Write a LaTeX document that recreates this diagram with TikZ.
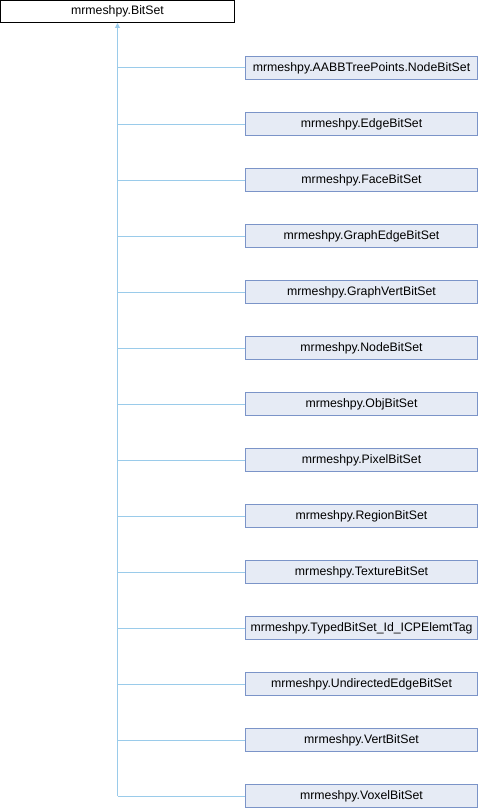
\documentclass[tikz,border=0pt]{standalone}
\usepackage{fontspec}
\setmainfont{Liberation Sans}
\usetikzlibrary{arrows.meta}
\definecolor{edgeblue}{HTML}{9ACBEA}
\definecolor{boxfill}{HTML}{E6EBF5}
\definecolor{boxdraw}{HTML}{7B94C8}
\begin{document}
\begin{tikzpicture}[x=1pt,y=-1pt,
  base/.style={draw=black,fill=white,line width=1pt,minimum width=234pt,minimum height=22pt,inner sep=0pt,font=\fontsize{12.3}{14}\selectfont},
  child/.style={draw=boxdraw,fill=boxfill,line width=1pt,minimum width=232pt,minimum height=23pt,inner sep=0pt,font=\fontsize{12.3}{14}\selectfont},
  link/.style={draw=edgeblue,line width=1pt}]
\useasboundingbox (0,0) rectangle (480,808);
\node[base] (root) at (117.5,11.5) {mrmeshpy.BitSet};
\coordinate (trunk) at (117.5,796);
\foreach \i/\t in {0/mrmeshpy.AABBTreePoints.NodeBitSet,1/mrmeshpy.EdgeBitSet,2/mrmeshpy.FaceBitSet,3/mrmeshpy.GraphEdgeBitSet,4/mrmeshpy.GraphVertBitSet,5/mrmeshpy.NodeBitSet,6/mrmeshpy.ObjBitSet,7/mrmeshpy.PixelBitSet,8/mrmeshpy.RegionBitSet,9/mrmeshpy.TextureBitSet,10/mrmeshpy.TypedBitSet\_Id\_ICPElemtTag,11/mrmeshpy.UndirectedEdgeBitSet,12/mrmeshpy.VertBitSet,13/mrmeshpy.VoxelBitSet}{
  \node[child] (c\i) at (361.5,{68+56*\i}) {\t};
  \coordinate (j\i) at (117.5,{68+56*\i});
  \draw[link] (j\i) -- (c\i.west);
}
\draw[link,-{Triangle[open,length=5pt,width=5pt,fill=edgeblue]}] (trunk) -- (root.south);
\end{tikzpicture}
\end{document}
